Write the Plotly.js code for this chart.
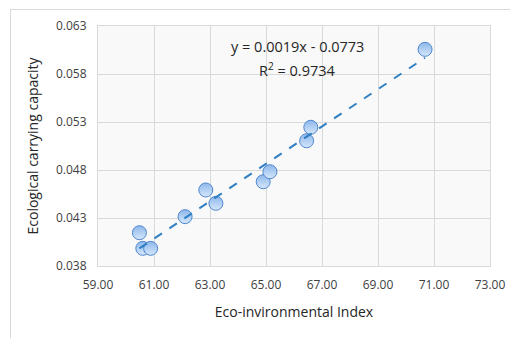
<!DOCTYPE html>
<html>
<head>
<meta charset="utf-8">
<script src="https://cdn.plot.ly/plotly-3.0.1.min.js"></script>
<style>
  html, body { margin: 0; padding: 0; background: #ffffff; }
  #chart { width: 510px; height: 338px; position: relative; }
  #frame { position: absolute; left: 10px; top: 9px; width: 500px; height: 329px;
           border-top: 1px solid #d9d9d9; border-left: 1px solid #d9d9d9; pointer-events: none; }
</style>
</head>
<body>
<div id="chart"></div>
<div id="frame"></div>
<script>
// Eco-environmental index (x) and ecological carrying capacity (y)
const ecoIndex = [60.48, 60.60, 60.88, 62.11, 62.85, 63.21, 64.90, 65.14, 66.45, 66.60, 70.68];
const carryingCapacity = [0.04147, 0.03984, 0.03984, 0.04314, 0.04592, 0.04453, 0.04678, 0.04782, 0.05105, 0.05245, 0.06057];
const xTicks = [59, 61, 63, 65, 67, 69, 71, 73];
const yTicks = [0.038, 0.043, 0.048, 0.053, 0.058, 0.063];
const equationText = "y = 0.0019x - 0.0773";
const r2Text = "R<sup>2</sup> = 0.9734";

// least-squares linear trendline from the data
const n = ecoIndex.length;
const mx = ecoIndex.reduce((a, b) => a + b, 0) / n;
const my = carryingCapacity.reduce((a, b) => a + b, 0) / n;
let sxy = 0, sxx = 0;
for (let i = 0; i < n; i++) { sxy += (ecoIndex[i] - mx) * (carryingCapacity[i] - my); sxx += (ecoIndex[i] - mx) ** 2; }
const slope = sxy / sxx, intercept = my - slope * mx;
const xMin = Math.min(...ecoIndex), xMax = Math.max(...ecoIndex);
const trendX = [xMin, xMax];
const trendY = trendX.map(v => slope * v + intercept);

const font = "'Open Sans', 'DejaVu Sans', sans-serif";

const traces = [
  { x: ecoIndex, y: carryingCapacity, mode: 'markers', type: 'scatter',
    marker: { size: 14, color: '#8db7ea', gradient: { type: 'vertical', color: '#d6e7fb' },
              line: { color: '#4f86cf', width: 1 } } },
  { x: trendX, y: trendY, mode: 'lines', type: 'scatter',
    line: { color: '#2e7fc4', width: 2, dash: 'dash' }, hoverinfo: 'skip' }
];

const layout = {
  width: 510, height: 338,
  margin: { l: 98, r: 20, t: 26, b: 72 },
  paper_bgcolor: '#ffffff', plot_bgcolor: '#f9f9f9',
  showlegend: false,
  font: { family: font, color: '#404040', size: 12 },
  xaxis: {
    range: [59, 73], tickvals: xTicks, ticktext: xTicks.map(v => v.toFixed(2)),
    showgrid: true, gridcolor: '#d9d9d9', gridwidth: 1,
    showline: true, linecolor: '#d9d9d9', mirror: true, zeroline: false, ticks: '',
    ticklabelstandoff: 8,
    tickfont: { size: 12, color: '#404040' },
    title: { text: 'Eco-invironmental Index', font: { size: 14, color: '#262626' }, standoff: 14 }
  },
  yaxis: {
    range: [0.038, 0.063], tickvals: yTicks, ticktext: yTicks.map(v => v.toFixed(3)),
    showgrid: true, gridcolor: '#d9d9d9', gridwidth: 1,
    showline: true, linecolor: '#d9d9d9', mirror: true, zeroline: false, ticks: '',
    ticklabelstandoff: 8,
    tickfont: { size: 12, color: '#404040' },
    title: { text: 'Ecological carrying capacity', font: { size: 14, color: '#262626' }, standoff: 14 }
  },
  annotations: [
    { xref: 'x', yref: 'y', x: 66.14, y: 0.0609, text: equationText, showarrow: false,
      font: { size: 14.5, color: '#262626' } },
    { xref: 'x', yref: 'y', x: 66.14, y: 0.0585, text: r2Text, showarrow: false,
      font: { size: 14.5, color: '#262626' } }
  ]
};

Plotly.newPlot('chart', traces, layout, { staticPlot: true, displayModeBar: false });
</script>
</body>
</html>
